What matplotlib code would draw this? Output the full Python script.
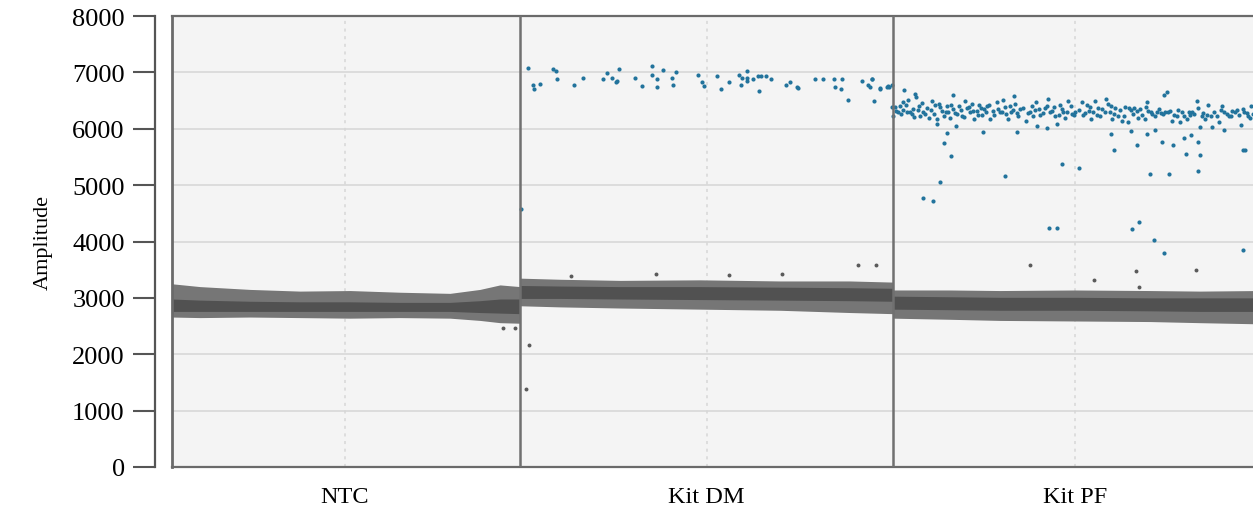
import numpy as np
import matplotlib
matplotlib.use("Agg")
import matplotlib.pyplot as plt

plt.rcParams['font.family'] = ['Liberation Serif', 'DejaVu Serif']

# wells (event index ranges)
wells = ['NTC', 'Kit DM', 'Kit PF']
well_edges = [0, 17400, 36050, 54250]
well_centers = [8650, 26725, 45150]

# negative droplet band per well: x knots and amplitude envelopes
ntc_x = [0, 1400, 3900, 6400, 8900, 11400, 13900, 15400, 16400, 17400]
ntc_outer_hi = [3250, 3200, 3150, 3120, 3130, 3100, 3080, 3150, 3230, 3200]
ntc_core_hi = [2980, 2960, 2940, 2930, 2930, 2920, 2920, 2950, 2980, 2980]
ntc_core_lo = [2760, 2760, 2760, 2760, 2760, 2760, 2760, 2740, 2730, 2720]
ntc_outer_lo = [2660, 2650, 2660, 2650, 2640, 2650, 2640, 2600, 2560, 2550]

dm_x = [17400, 19400, 22400, 26400, 30400, 33900, 36050]
dm_outer_hi = [3350, 3330, 3310, 3320, 3300, 3300, 3280]
dm_core_hi = [3220, 3210, 3200, 3200, 3190, 3180, 3170]
dm_core_lo = [2990, 2990, 2980, 2970, 2960, 2950, 2940]
dm_outer_lo = [2860, 2840, 2820, 2800, 2780, 2740, 2720]

pf_x = [36050, 38900, 41400, 45150, 48900, 51400, 54250]
pf_outer_hi = [3140, 3140, 3130, 3140, 3130, 3120, 3130]
pf_core_hi = [3030, 3020, 3010, 3010, 3000, 3000, 3000]
pf_core_lo = [2800, 2790, 2780, 2780, 2770, 2760, 2760]
pf_outer_lo = [2640, 2620, 2600, 2590, 2580, 2560, 2540]

# positive droplets, Kit DM
dm_pos_x = [17450, 17800, 18050, 18100, 18400, 19050, 19200, 19250, 20100, 20550,
            21550, 21750, 22000, 22250, 22200, 22350, 23150, 23500, 24000, 24020,
            24250, 24270, 24550, 25000, 25050, 25200, 26300, 26500, 26600, 27250,
            27450, 27850, 28350, 28500, 28750, 28770, 28450, 28730, 29050, 29300,
            29450, 29700, 29350, 29950, 30700, 30900, 31250, 31280, 32150, 32550,
            33100, 33500, 33150, 33450, 33800, 34500, 34800, 35000, 34900, 35100,
            35400, 35750, 35850, 34980, 35420, 35800, 36000, 35980]
dm_pos_y = [4577, 7078, 6781, 6705, 6794, 7060, 7018, 6882, 6781, 6900,
            6882, 6983, 6900, 6853, 6823, 7066, 6900, 6751, 7119, 6959,
            6882, 6734, 7042, 6900, 6781, 7001, 6959, 6823, 6764, 6930,
            6705, 6823, 6959, 6900, 6900, 7018, 6781, 6841, 6882, 6942,
            6930, 6942, 6675, 6882, 6781, 6823, 6746, 6722, 6876, 6888,
            6876, 6876, 6734, 6705, 6516, 6841, 6781, 6876, 6734, 6498,
            6710, 6734, 6746, 6882, 6718, 6751, 6776, 6380]

# positive droplets, Kit PF
pf_pos_x = [36600, 37150, 37200, 36800, 36550, 36400, 36200, 36050, 36300, 36570,
            36750, 37000, 37050, 37350, 37400, 37550, 37750, 37850, 38000, 38150,
            38250, 38350, 38500, 38600, 38750, 38800, 38900, 39050, 39070, 39250,
            39350, 39500, 39650, 39750, 39900, 40000, 40100, 40250, 40350, 40500,
            40600, 40750, 40900, 41050, 41250, 41400, 41550, 41650, 41800, 41950,
            42100, 42150, 42250, 42400, 42700, 42900, 43050, 43200, 43250, 43350,
            43550, 43750, 43800, 43770, 44000, 44150, 44250, 44400, 44550, 44650,
            44800, 45000, 45150, 45500, 45550, 45750, 45850, 45950, 46150, 46300,
            46400, 46700, 46800, 46900, 47000, 47150, 47300, 47500, 47650, 47800,
            47950, 48100, 48300, 48400, 48650, 48750, 48800, 49000, 49250, 49450,
            49600, 49750, 49650, 49900, 50000, 50250, 50400, 50500, 50750, 50900,
            51000, 51250, 51400, 51500, 51650, 51800, 51950, 52000, 52350, 52500,
            52600, 52620, 52850, 53000, 53250, 53450, 53600, 53800, 53950, 53900,
            36150, 36450, 36700, 36900, 37100, 37300, 37500, 37650, 37950, 38100,
            38400, 38700, 38950, 39150, 39450, 39600, 39850, 40050, 40300, 40450,
            40700, 40850, 41100, 41300, 41500, 41700, 41900, 42050, 42300, 42550,
            42800, 43000, 43150, 43400, 43650, 43900, 44100, 44350, 44500, 44750,
            44950, 45100, 45350, 45650, 45900, 46050, 46250, 46500, 46650, 46950,
            47100, 47400, 47600, 47850, 48050, 48250, 48500, 48700, 48950, 49150,
            49350, 49550, 49800, 50100, 50300, 50600, 50850, 51100, 51300, 51550,
            51750, 52100, 52250, 52450, 52750, 52950, 53150, 53350, 53550, 53750,
            54050,
            38750, 38600, 38950, 38400, 37550, 38050, 40550, 41650, 42250, 43850,
            44250, 44500, 38250, 39200, 46950, 48750, 47950, 49150, 47100, 48250,
            49500, 50050, 50600, 50950, 51300, 50700, 51400, 51300, 48900, 49850,
            45350, 53550, 53650, 48350, 48000, 49100, 49600, 53550]
pf_pos_y = [6693, 6617, 6558, 6516, 6480, 6399, 6321, 6232, 6292, 6339,
            6304, 6263, 6351, 6410, 6232, 6304, 6363, 6185, 6498, 6422,
            6173, 6440, 6321, 6232, 6410, 6304, 6185, 6599, 6351, 6263,
            6399, 6232, 6498, 6363, 6292, 6440, 6173, 6321, 6422, 6245,
            6351, 6399, 6173, 6321, 6469, 6292, 6516, 6386, 6173, 6304,
            6575, 6440, 6280, 6351, 6144, 6304, 6232, 6480, 6043, 6351,
            6280, 6410, 6528, 6008, 6321, 6232, 6085, 6422, 6292, 6185,
            6498, 6263, 6304, 6469, 6245, 6422, 6321, 6173, 6498, 6363,
            6232, 6528, 6440, 6292, 6173, 6363, 6232, 6144, 6386, 6115,
            6339, 6363, 6185, 6351, 6173, 6480, 6321, 6263, 6304, 6280,
            6599, 6658, 6292, 6321, 6144, 6232, 6115, 6304, 6173, 6245,
            6304, 6498, 6026, 6232, 6173, 6422, 6232, 6026, 6115, 6410,
            6304, 5984, 6232, 6321, 6339, 6067, 6292, 6232, 6399, 6185,
            6380, 6260, 6420, 6300, 6210, 6340, 6450, 6270, 6330, 6260,
            6380, 6300, 6430, 6280, 6340, 6200, 6390, 6310, 6250, 6360,
            6290, 6430, 6240, 6350, 6300, 6260, 6400, 6330, 6220, 6370,
            6280, 6400, 6330, 6250, 6360, 6290, 6380, 6240, 6350, 6300,
            6400, 6250, 6330, 6280, 6380, 6300, 6250, 6350, 6290, 6400,
            6270, 6330, 6230, 6360, 6270, 6310, 6240, 6380, 6300, 6230,
            6350, 6260, 6300, 6250, 6340, 6220, 6300, 6260, 6360, 6280,
            6240, 6300, 6220, 6330, 6270, 6230, 6300, 6250, 6350, 6280,
            6260,
            5925, 5748, 5511, 5061, 4777, 4724, 5937, 5157, 5949, 4234,
            4246, 5375, 6085, 6043, 5907, 5907, 5966, 5984, 5618, 5712,
            5760, 5718, 5842, 5895, 5771, 5547, 5535, 5256, 5198, 5192,
            5304, 5629, 5629, 4341, 4222, 4027, 3796, 3855]

# negative rain (below threshold, off the band)
neg_rain_x = [16550, 17150, 17850, 17700, 19950, 24200, 27850, 30500, 34300, 35200,
              42900, 46100, 48200, 51200, 48350]
neg_rain_y = [2466, 2466, 2164, 1384, 3394, 3423, 3406, 3423, 3589, 3583,
              3583, 3323, 3471, 3489, 3198]

fig = plt.figure(figsize=(12.53, 5.06), dpi=100)
ax = fig.add_axes([172 / 1253, 38 / 506, 1085 / 1253, 451 / 506])
ax.set_facecolor('#f4f4f4')

ax.set_xlim(well_edges[0], well_edges[-1])
ax.set_ylim(0, 8000)
ax.set_yticks(range(0, 8001, 1000))
ax.set_xticks(well_centers)
ax.set_xticklabels(wells)

# grid
for yv in range(1000, 8000, 1000):
    ax.axhline(yv, color='#dadada', lw=1.3, zorder=0)
for xc in well_centers:
    ax.axvline(xc, color='#d6d6d6', lw=1.1, ls=(0, (2, 3)), zorder=0)

# droplet bands
for xs, olo, ohi, clo, chi in [
        (ntc_x, ntc_outer_lo, ntc_outer_hi, ntc_core_lo, ntc_core_hi),
        (dm_x, dm_outer_lo, dm_outer_hi, dm_core_lo, dm_core_hi),
        (pf_x, pf_outer_lo, pf_outer_hi, pf_core_lo, pf_core_hi)]:
    ax.fill_between(xs, olo, ohi, color='#767676', lw=0, zorder=1)
    ax.fill_between(xs, clo, chi, color='#515151', lw=0, zorder=1.2)

ax.scatter(neg_rain_x, neg_rain_y, s=8, color='#5a5a5a', lw=0, zorder=2)
ax.scatter(dm_pos_x, dm_pos_y, s=9, color='#22739c', lw=0, zorder=2)
ax.scatter(pf_pos_x, pf_pos_y, s=9, color='#22739c', lw=0, zorder=2)

# well separators and plot border
for xe in well_edges[1:-1]:
    ax.axvline(xe, color='#707070', lw=1.8, zorder=3)
ax.axvline(well_edges[0], color='#6a6a6a', lw=2, zorder=3, clip_on=False)

for side in ['top', 'bottom']:
    ax.spines[side].set_color('#6a6a6a')
    ax.spines[side].set_linewidth(1.6)
ax.spines['right'].set_visible(False)
ax.spines['left'].set_position(('outward', 12))
ax.spines['left'].set_color('#555555')
ax.spines['left'].set_linewidth(1.6)

ax.tick_params(axis='y', length=16, width=1.5, color='#555555', pad=6, labelsize=19)
ax.tick_params(axis='x', length=0, pad=14, labelsize=17.5)
ax.set_ylabel('Amplitude', fontsize=16, labelpad=14)

fig.savefig('out.png', dpi=100)
